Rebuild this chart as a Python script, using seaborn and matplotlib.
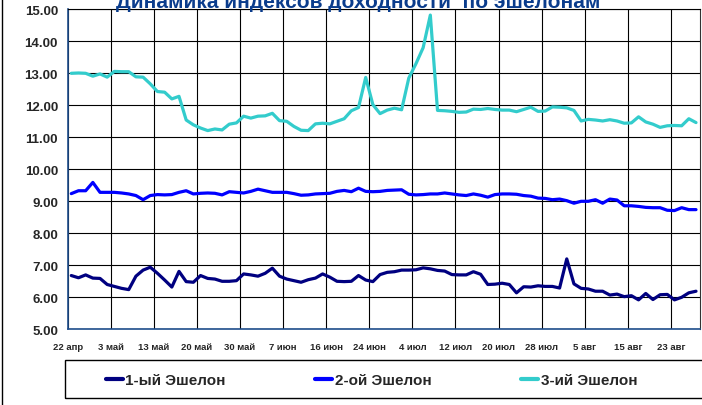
import numpy as np
import pandas as pd
import seaborn as sns
from matplotlib import pyplot as plt
from matplotlib.lines import Line2D
from matplotlib.patches import Rectangle

# x axis labels, one for every 6 trading days
tick_labels = ["22 апр", "3 май", "13 май", "20 май", "30 май", "7 июн", "16 июн", "24 июн",
               "4 июл", "12 июл", "20 июл", "28 июл", "5 авг", "15 авг", "23 авг"]

series_names = ["1-ый Эшелон", "2-ой Эшелон", "3-ий Эшелон"]

ech1 = [6.68, 6.61, 6.70, 6.60, 6.59, 6.40, 6.34, 6.28, 6.24, 6.66, 6.85, 6.94, 6.75, 6.54, 6.32,
        6.81, 6.49, 6.47, 6.68, 6.59, 6.57, 6.50, 6.50, 6.52, 6.73, 6.70, 6.66, 6.75, 6.91, 6.66,
        6.57, 6.52, 6.47, 6.55, 6.60, 6.73, 6.63, 6.50, 6.49, 6.50, 6.68, 6.54, 6.49, 6.71, 6.78,
        6.80, 6.85, 6.85, 6.86, 6.92, 6.89, 6.84, 6.82, 6.71, 6.70, 6.70, 6.80, 6.72, 6.40,
        6.41, 6.44, 6.40, 6.14, 6.33, 6.32, 6.36, 6.34, 6.34, 6.29, 7.20, 6.42, 6.28, 6.26, 6.19,
        6.19, 6.07, 6.10, 6.02, 6.05, 5.92, 6.12, 5.93, 6.08, 6.09, 5.92, 6.00, 6.14, 6.19]

ech2 = [9.24, 9.33, 9.33, 9.59, 9.28, 9.28, 9.28, 9.26, 9.23, 9.18, 9.05, 9.18, 9.21, 9.20, 9.21,
        9.28, 9.33, 9.23, 9.25, 9.26, 9.25, 9.20, 9.30, 9.28, 9.26, 9.31, 9.38, 9.33, 9.28, 9.28,
        9.28, 9.24, 9.19, 9.20, 9.23, 9.24, 9.25, 9.31, 9.34, 9.30, 9.41, 9.31, 9.30, 9.31, 9.34,
        9.35, 9.36, 9.22, 9.20, 9.21, 9.23, 9.23, 9.26, 9.23, 9.20, 9.18, 9.23, 9.19, 9.13,
        9.21, 9.23, 9.23, 9.22, 9.18, 9.16, 9.10, 9.09, 9.05, 9.07, 9.02, 8.94, 9.00, 9.00, 9.05,
        8.94, 9.07, 9.04, 8.86, 8.86, 8.84, 8.81, 8.80, 8.80, 8.72, 8.71, 8.80, 8.74, 8.74]

ech3 = [13.00, 13.01, 13.00, 12.91, 12.98, 12.88, 13.06, 13.05, 13.05, 12.89, 12.88, 12.67, 12.43,
        12.41, 12.20, 12.28, 11.54, 11.39, 11.29, 11.21, 11.26, 11.23, 11.41, 11.45, 11.66, 11.60,
        11.66, 11.67, 11.75, 11.52,
        11.50, 11.34, 11.22, 11.21, 11.42, 11.44, 11.42, 11.50, 11.58, 11.83, 11.93, 12.87, 12.02,
        11.74, 11.85, 11.91, 11.86, 12.85, 13.30, 13.80, 14.82, 11.84, 11.83, 11.81, 11.78, 11.79,
        11.88, 11.87, 11.90,
        11.87, 11.85, 11.85, 11.80, 11.87, 11.94, 11.81, 11.82, 11.95, 11.94, 11.92, 11.84, 11.51,
        11.56, 11.54, 11.51, 11.55, 11.51, 11.44, 11.45, 11.64, 11.48, 11.41, 11.31, 11.36, 11.37,
        11.36, 11.58, 11.46]

colors = ["#000080", "#0000FF", "#33CCCC"]

n = len(ech1)
df = pd.DataFrame({"day": list(range(n)) * 3,
                   "value": ech1 + ech2 + ech3,
                   "series": np.repeat(series_names, n)})

sns.set_style("white")
plt.rcParams['font.family'] = ['Liberation Sans', 'DejaVu Sans']

W, H = 702, 406
fig = plt.figure(figsize=(W / 100, H / 100), dpi=100)
ax = fig.add_axes([67.7 / W, 1 - 330.3 / H, (699.6 - 67.7) / W, 320 / H])

sns.lineplot(data=df, x="day", y="value", hue="series", hue_order=series_names,
             palette=dict(zip(series_names, colors)), linewidth=2.3, ax=ax, legend=False)

ax.set_xlim(-0.5, n - 0.5)
ax.set_ylim(5, 15)
yt = np.arange(5, 15.01, 1.0)
ax.set_yticks(yt)
ax.set_yticklabels([f"{v:.2f}" for v in yt], fontsize=9.5, fontweight='bold')
ax.set_xticks(np.arange(len(tick_labels)) * 6 - 0.5)
ax.set_xticklabels(tick_labels, fontsize=6.8, fontweight='bold')
ax.set_xlabel("")
ax.set_ylabel("")

ax.grid(True, color='black', linewidth=0.8)
ax.tick_params(axis='y', length=5, width=1, color='#1F4E8C', pad=2)
ax.tick_params(axis='x', length=4, width=0.8, color='black', pad=5)
for side in ['left', 'bottom']:
    ax.spines[side].set_color('#1F4E8C')
    ax.spines[side].set_linewidth(1.2)
ax.spines['right'].set_color('#333333')
ax.spines['top'].set_color('black')
ax.spines['top'].set_linewidth(0.8)

# title is clipped at the top edge, as in the original
fig.text(358 / W, 1 - 8 / H, "Динамика индексов доходности  по эшелонам",
         ha='center', va='baseline', fontsize=15, fontweight='bold', color='#0A3C8C')

# legend box below the plot
handles = [Line2D([], [], color=c, lw=3) for c in colors]
fig.legend(handles, series_names, loc='center left', bbox_to_anchor=(92 / W, 1 - 381 / H),
           ncol=3, frameon=False, prop={'size': 11, 'weight': 'bold'},
           handlelength=1.1, handletextpad=0.15, columnspacing=5.9)
fig.add_artist(Rectangle((65 / W, 1 - 399 / H), 660 / W, 38 / H, transform=fig.transFigure,
                         fill=False, edgecolor='black', linewidth=1))
fig.add_artist(Line2D([1.5 / W, 1.5 / W], [0, 1], transform=fig.transFigure, color='black', lw=1))

fig.savefig("out.png", dpi=100)
